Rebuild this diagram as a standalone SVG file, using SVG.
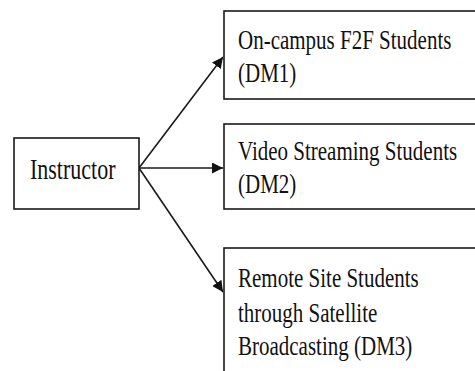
<svg xmlns="http://www.w3.org/2000/svg" width="475" height="371" viewBox="0 0 475 371">
<style>
.box{fill:#fff;stroke:#1a1a1a;stroke-width:1.6}
.t{font-family:"Liberation Serif","Times New Roman",serif;font-size:21px;fill:#111}
.c{stroke:#1a1a1a;stroke-width:1.6;fill:none}
</style>
<defs>
<marker id="ah" viewBox="0 0 10 10" refX="10" refY="5" markerWidth="11" markerHeight="11" markerUnits="userSpaceOnUse" orient="auto">
<path d="M0,0 L10,5 L0,10 z" fill="#111"/>
</marker>
</defs>
<rect width="475" height="371" fill="#fff"/>
<g id="connectors">
<line class="c" x1="139" y1="168" x2="223" y2="57" marker-end="url(#ah)"/>
<line class="c" x1="139" y1="168" x2="223" y2="168" marker-end="url(#ah)"/>
<line class="c" x1="139" y1="168" x2="223" y2="292" marker-end="url(#ah)"/>
</g>
<g id="instructor">
<rect class="box" x="14" y="138" width="125" height="71"/>
<text class="t" style="font-size:22px" transform="translate(30,178.5) scale(1,1.3)">Instructor</text>
</g>
<g id="dm1">
<rect class="box" x="224" y="11" width="260" height="88"/>
<text class="t" transform="translate(238,48.5) scale(1,1.35)">On-campus F2F Students</text>
<text class="t" transform="translate(238,81.5) scale(1,1.35)">(DM1)</text>
</g>
<g id="dm2">
<rect class="box" x="224" y="124" width="260" height="85"/>
<text class="t" transform="translate(238,159.5) scale(1,1.35)">Video Streaming Students</text>
<text class="t" transform="translate(238,192.5) scale(1,1.35)">(DM2)</text>
</g>
<g id="dm3">
<rect class="box" x="224" y="248" width="260" height="140"/>
<text class="t" transform="translate(238,287) scale(1,1.35)">Remote Site Students</text>
<text class="t" transform="translate(238,321.5) scale(1,1.35)">through Satellite</text>
<text class="t" transform="translate(238,355) scale(1,1.35)">Broadcasting (DM3)</text>
</g>
</svg>
